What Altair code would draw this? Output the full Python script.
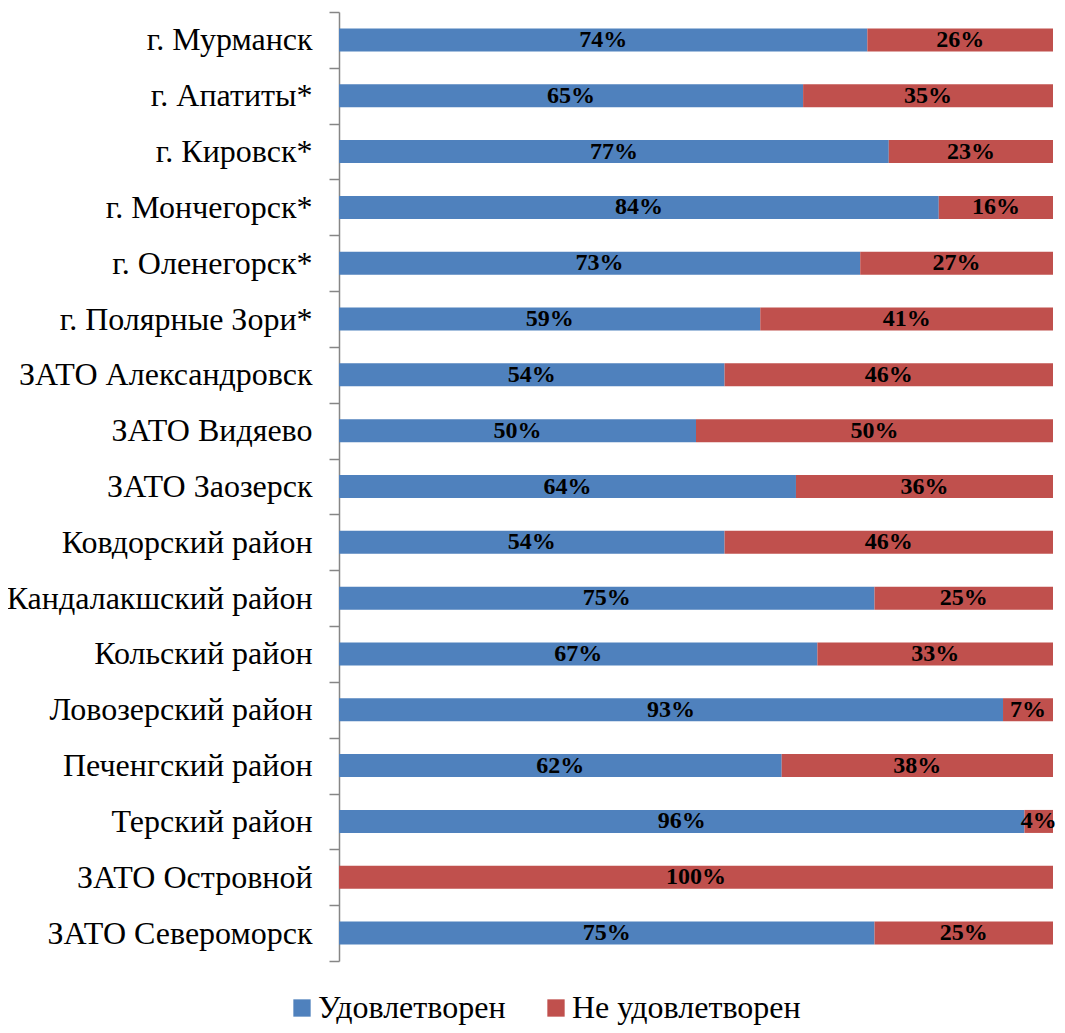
import altair as alt
import pandas as pd

categories = [
    "г. Мурманск", "г. Апатиты*", "г. Кировск*", "г. Мончегорск*", "г. Оленегорск*",
    "г. Полярные Зори*", "ЗАТО Александровск", "ЗАТО Видяево", "ЗАТО Заозерск",
    "Ковдорский район", "Кандалакшский район", "Кольский район", "Ловозерский район",
    "Печенгский район", "Терский район", "ЗАТО Островной", "ЗАТО Североморск",
]
satisfied = [74, 65, 77, 84, 73, 59, 54, 50, 64, 54, 75, 67, 93, 62, 96, 0, 75]
unsatisfied = [26, 35, 23, 16, 27, 41, 46, 50, 36, 46, 25, 33, 7, 38, 4, 100, 25]
series = ["Удовлетворен", "Не удовлетворен"]
colors = ["#4F81BD", "#C0504D"]

rows = []
for c, s, u in zip(categories, satisfied, unsatisfied):
    rows.append({"cat": c, "series": series[0], "ord": 0, "value": s})
    rows.append({"cat": c, "series": series[1], "ord": 1, "value": u})
df = pd.DataFrame(rows)

FONT = "Liberation Serif"

base = alt.Chart(df).transform_stack(
    stack="value", groupby=["cat"], as_=["x0", "x1"], sort=[alt.SortField("ord")]
).transform_calculate(
    mid="(datum.x0 + datum.x1) / 2", label="datum.value + '%'"
)

y_enc = alt.Y(
    "cat:N", sort=categories,
    scale=alt.Scale(paddingInner=0, paddingOuter=0),
    axis=alt.Axis(
        title=None, domainColor="#868686", domainWidth=1.5, tickColor="#868686",
        tickWidth=1.5, tickSize=10, tickBand="extent", labelFont=FONT,
        labelFontSize=32, labelColor="black", labelPadding=17, grid=False,
        labelLimit=400,
    ),
)

bars = base.mark_bar(size=23).encode(
    y=y_enc,
    x=alt.X("x0:Q", scale=alt.Scale(domain=[0, 100]), axis=None),
    x2="x1:Q",
    color=alt.Color(
        "series:N", sort=series,
        scale=alt.Scale(domain=series, range=colors),
        legend=alt.Legend(
            title=None, orient="none", direction="horizontal",
            legendX=-53, legendY=980, symbolType="square", symbolSize=300,
            symbolStrokeWidth=0, labelFont=FONT, labelFontSize=32,
            labelColor="black", labelOffset=0, columnPadding=34,
            labelLimit=600,
        ),
    ),
)

text = base.transform_filter("datum.value > 0").mark_text(
    font=FONT, fontWeight="bold", fontSize=24, color="black", baseline="middle"
).encode(
    y=alt.Y("cat:N", sort=categories),
    x=alt.X("mid:Q"),
    text="label:N",
)

chart = alt.layer(bars, text).properties(
    width=714, height=949,
    autosize=alt.AutoSizeParams(type="none"),
    padding={"left": 331, "top": 4, "right": 4, "bottom": 64},
).configure_view(stroke=None)

chart.save("out.html", embed_options={"renderer": "svg", "actions": False})
